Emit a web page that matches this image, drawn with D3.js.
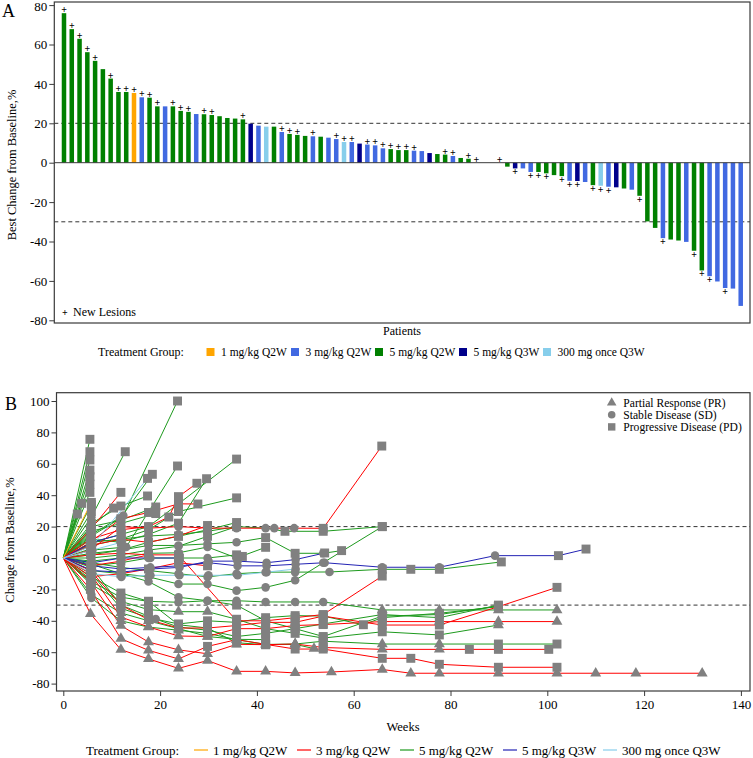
<!DOCTYPE html>
<html><head><meta charset="utf-8">
<script src="https://cdn.jsdelivr.net/npm/d3@7"></script>
<style>
body{margin:0;background:#fff}
text{font-family:"Liberation Serif","Tinos","Times New Roman",serif;fill:#000}
</style>
</head><body>
<svg id="chart" width="753" height="758"></svg>
<script>
// ---- panel A: best change from baseline per patient (sorted), group index, new lesions
var bestChange = [75.9,67.8,62.9,56.1,51.7,47.5,42.7,35.9,35.9,35.4,33.2,33.0,28.6,28.6,28.6,26.3,25.8,24.7,24.6,24.2,
  23.6,22.7,22.4,22.0,19.8,18.8,18.3,18.3,15.6,14.6,14.1,13.6,13.4,13.2,12.7,12.0,10.5,10.5,9.7,9.2,
  8.8,7.3,6.9,6.4,6.4,6.1,5.9,4.9,4.4,4.1,3.4,2.4,2.0,0,0,0,0,-2.0,-2.9,-2.9,
  -4.7,-4.7,-5.4,-6.3,-6.8,-9.2,-9.3,-9.8,-11.4,-11.7,-12.2,-12.5,-13.1,-13.7,-16.8,-29.8,-33.1,-38.3,-39.0,-39.5,
  -40.2,-44.7,-54.7,-57.6,-60.3,-63.6,-63.9,-72.7];
var barGroup = [2,2,2,2,2,2,2,2,2,0,1,2,2,1,2,2,2,1,2,2,
  2,2,2,2,3,1,4,2,1,2,2,2,1,2,1,1,4,1,3,1,
  1,1,2,2,2,1,1,3,2,2,1,2,2,2,2,2,2,2,3,1,
  1,2,2,2,2,1,3,1,2,4,1,3,2,1,2,2,2,1,2,2,
  1,2,2,1,1,1,1,1];
var newLesion = [1,1,1,1,1,0,1,1,1,1,1,1,1,0,1,1,1,0,1,1,
  0,0,0,1,0,0,0,0,1,1,1,0,1,0,0,1,1,1,0,1,
  1,1,1,1,1,1,0,0,0,1,1,0,1,1,0,0,1,0,1,0,
  1,1,1,0,1,1,1,0,1,1,1,0,0,0,1,0,0,1,0,0,
  0,1,1,1,0,1,0,0];
var yTicksA = [-80,-60,-40,-20,0,20,40,60,80];

var groupNames = ["1 mg/kg Q2W","3 mg/kg Q2W","5 mg/kg Q2W","5 mg/kg Q3W","300 mg once Q3W"];
var barColors = ["#FFA500","#4169E1","#008000","#00008B","#87CEEB"];
var lineColors = ["#FFA500","#FF0000","#1E9A1E","#2323B4","#87CEEB"];

// ---- panel B: spider trajectories [week, % change, response], per treatment group
var spider1mg = [
  [[5.8,35.4,"PD"]]
];
var spider3mg = [
  [[5.6,-35.5,"PR"],[11.9,-58.4,"PR"],[17.6,-64.3,"PR"],[23.8,-70.3,"PR"],[29.8,-65.3,"PR"],[35.8,-72.2,"PR"],[41.8,-72.2,"PR"],[47.9,-73.2,"PR"],[55.4,-72.6,"PR"],[65.9,-71,"PR"],[71.8,-73.4,"PR"],[77.7,-73.4,"PR"],[89.9,-73.4,"PR"],[102,-73.4,"PR"],[110,-73.4,"PR"],[118.3,-73.4,"PR"],[132,-73.4,"PR"]],
  [[5.6,-20,"PD"],[11.9,-51.4,"PR"],[17.6,-58.8,"PR"],[23.8,-64.3,"PR"],[29.8,-56.3,"PD"],[35.8,-52,"PD"],[41.8,-55,"PD"],[47.9,-58,"PD"],[53.7,-58,"PD"],[65.9,-63.9,"PD"],[71.8,-63.9,"PD"],[77.7,-67.7,"PD"],[89.9,-69.6,"PD"],[102,-69.6,"PD"]],
  [[5.6,-15,"PD"],[11.9,-43.1,"PR"],[17.6,-53.5,"PR"],[23.8,-58.5,"PR"],[29.8,-61,"PR"],[35.8,-55,"PR"],[41.8,-55.2,"PD"],[47.9,-54.8,"PR"],[53.7,-57,"PD"],[65.9,-58.2,"PR"],[77.7,-58.2,"PR"],[83.9,-58.2,"PD"],[89.9,-58.2,"PD"],[100.3,-58.2,"PD"]],
  [[5.6,-10,"PD"],[11.9,-37.6,"PR"],[17.6,-43.9,"PR"],[23.8,-49.7,"PR"],[29.8,-50,"PR"],[35.8,-45,"PD"],[41.8,-45,"PD"],[47.9,-43,"PD"],[53.7,-42.4,"PD"],[65.9,-40.5,"PD"],[77.7,-40.5,"PR"],[89.9,-40.5,"PR"],[102,-40.5,"PR"]],
  [[5.6,-8,"PD"],[11.9,-30,"PD"],[17.6,-39.3,"PD"],[23.8,-44.6,"PD"],[29.8,-44.6,"PD"],[35.8,-43,"PD"],[41.8,-41,"PD"],[47.9,-41,"PD"],[53.7,-37,"PD"],[65.9,-42.7,"PD"],[77.7,-42.7,"PD"],[89.9,-31,"PD"],[102,-18.7,"PD"]],
  [[5.6,18,"PD"],[11.9,41.8,"PD"]],
  [[5.6,12,"PD"],[11.9,18,"PD"],[17.6,20,"PD"],[21.8,26.1,"PD"],[23.8,39.1,"PD"],[27.6,47.6,"PD"]],
  [[5.6,5,"PD"],[11.9,20,"PD"],[17.6,19,"PD"],[23.8,20,"SD"],[29.8,19,"SD"],[35.8,19,"SD"],[43.6,19,"SD"],[47.7,19,"SD"],[53.7,18.9,"PD"],[65.8,71.3,"PD"]],
  [[5.6,2,"PD"],[11.9,3,"PD"],[17.6,2,"PD"],[23.8,2,"PD"],[35.8,-40,"PD"],[41.8,-40,"PD"],[47.9,-38,"PD"],[53.7,-36,"PD"],[65.9,-11.5,"PD"]],
  [[5.6,-12,"PD"],[11.9,-10,"PD"],[17.6,-7,"PD"],[23.8,-3,"PD"],[29.8,-5,"PD"]],
  [[5.6,8,"PD"],[11.9,12,"PD"],[17.6,10,"PD"],[23.8,14,"PD"],[29.8,20.7,"PD"]],
  [[5.6,-5,"PD"],[11.9,-2,"PD"],[17.6,2,"PD"]],
  [[5.6,10,"PD"],[11.9,25,"PD"],[17.6,29,"PD"],[23.8,34.5,"PD"],[27.8,34.4,"PD"]]
];
var spider5mgQ2W = [
  [[5.5,75.6,"PD"]],[[5.5,67.7,"PD"]],[[5.5,62.4,"PD"]],[[5.5,56,"PD"]],[[5.5,51.8,"PD"]],
  [[5.5,47.1,"PD"]],[[5.5,41.8,"PD"]],[[3.8,34.8,"PD"]],[[2.9,28,"PD"]],[[5.8,34,"PD"]],[[5.8,29.5,"PD"]],
  [[5.8,26,"SD"],[12.8,67.7,"PD"]],
  [[5.8,15,"SD"],[12.4,27,"SD"],[23.6,100,"PD"]],
  [[5.8,5,"SD"],[13,7,"SD"],[23.6,58.6,"PD"]],
  [[5.8,14,"SD"],[11.7,25,"SD"],[18.4,53.3,"PD"]],
  [[5.8,22,"PD"],[11.9,33.1,"PD"],[17.4,39.5,"PD"]],
  [[5.8,12,"SD"],[11.9,10,"SD"],[17.6,15,"SD"],[23.8,22.2,"PD"],[29.6,50.5,"PD"]],
  [[5.8,20,"PD"],[10.4,31.8,"PD"]],
  [[5.8,10,"SD"],[11.9,15,"SD"],[17.6,20,"SD"],[23.8,34.5,"PD"],[35.8,63,"PD"]],
  [[5.8,8,"SD"],[11.9,12,"SD"],[17.6,18,"SD"],[23.8,29.6,"PD"],[35.8,38.3,"PD"]],
  [[5.8,3,"SD"],[11.9,5,"SD"],[17.6,10,"SD"],[23.8,13.8,"PD"],[29.8,18,"PD"],[35.8,22.6,"PD"]],
  [[5.8,0,"SD"],[11.9,2,"SD"],[17.6,5,"SD"],[23.8,7.5,"SD"],[29.8,13.8,"PD"],[35.8,20,"PD"]],
  [[5.8,-2,"SD"],[11.9,0,"SD"],[17.6,3,"SD"],[23.8,3.3,"SD"],[29.8,7,"SD"],[35.8,0,"SD"],[41.8,6.8,"PD"]],
  [[5.8,-5,"SD"],[11.9,-3,"SD"],[17.6,0,"SD"],[23.8,0,"SD"],[29.8,0,"SD"],[35.8,2,"PD"],[37,1,"PD"]],
  [[5.8,-8,"SD"],[11.9,-10,"SD"],[17.6,-12,"SD"],[23.8,-16.6,"SD"],[29.8,-16.6,"SD"],[35.8,-20.8,"SD"],[41.8,-18.7,"SD"],[47.9,-14.2,"SD"],[53.7,-3,"SD"],[65.9,20,"PD"]],
  [[5.8,10,"SD"],[11.9,12,"SD"],[17.6,14,"SD"],[23.8,15,"SD"],[29.8,17,"SD"],[35.8,20,"SD"],[41.8,19,"SD"],[45.8,17,"PD"],[53.7,17,"PD"],[65.9,20,"PD"]],
  [[5.8,2,"SD"],[11.9,5,"SD"],[17.6,8,"SD"],[23.8,8,"SD"],[29.8,9,"SD"],[35.8,10,"SD"],[41.8,13,"PD"],[47.9,3,"PD"],[53.7,3,"SD"],[57.5,4.7,"PD"]],
  [[5.8,-3,"SD"],[11.9,-6,"SD"],[17.6,-8,"SD"],[23.8,-10,"SD"],[29.8,-12,"SD"],[35.8,-10,"SD"],[41.8,-9,"SD"],[47.9,-9,"SD"],[55,-8.9,"SD"],[65.9,-7.2,"PD"],[71.8,-7.2,"PD"],[77.7,-7.2,"PD"],[90.5,-2.5,"PD"]],
  [[5.8,-15,"SD"],[11.9,-25,"PD"],[17.6,-27.6,"PD"],[23.8,-28.2,"SD"],[29.8,-27.2,"SD"],[35.8,-27.2,"SD"],[41.8,-28,"SD"],[47.9,-28,"SD"],[53.7,-28,"SD"],[65.9,-33.1,"PR"],[77.7,-33.1,"PR"],[89.9,-33.1,"PR"],[102,-33.1,"PR"]],
  [[5.8,-17,"PD"],[11.9,-27.6,"PD"],[17.6,-32.9,"PD"],[23.8,-34.2,"PR"],[29.8,-34.2,"PR"],[35.8,-39,"PD"],[41.8,-45,"PD"],[47.9,-48,"PD"],[53.7,-51,"PD"],[65.9,-47,"PD"],[77.7,-49,"PD"],[89.9,-42.7,"PR"]],
  [[5.8,-12,"PD"],[11.9,-22.3,"PD"],[17.6,-27.6,"PD"],[23.8,-42.5,"PD"],[29.8,-44.6,"PD"],[35.8,-54,"PD"],[41.8,-55.2,"PD"],[47.9,-54.8,"PR"],[53.7,-53,"PD"],[65.9,-54.8,"PR"],[77.7,-54.8,"PR"],[89.9,-54.8,"PD"],[102,-54.8,"PD"]],
  [[5.8,-10,"PD"],[11.9,-32,"PD"],[17.6,-38,"PD"],[23.8,-42,"PD"],[29.8,-40,"PD"],[35.8,-41,"PD"],[41.8,-38,"PD"],[47.9,-36.7,"PD"],[53.7,-37,"PD"],[62,-42.5,"PD"],[65.9,-38,"PD"],[77.7,-35.2,"PD"],[89.9,-31,"PD"]],
  [[5.8,-6,"PD"],[11.9,-30,"PD"],[19.1,-38.9,"SD"],[23.8,-44,"PD"],[29.8,-46,"PD"],[35.8,-50,"PD"],[41.8,-48,"PD"],[47.9,-45,"PD"],[53.7,-50,"PD"],[65.9,-37,"PD"],[77.7,-36,"PD"],[89.9,-30.6,"PD"]],
  [[5.8,-4,"SD"],[11.9,-10,"SD"],[17.6,-15,"SD"],[23.8,-25,"SD"],[29.8,-27.2,"SD"],[35.8,-30,"PD"],[41.8,-40,"PD"],[47.9,-45,"PD"],[53.7,-42,"PD"],[65.9,-36,"PD"],[77.7,-38,"PD"],[89.9,-30,"PD"]],
  [[5.8,-23.4,"SD"],[11.9,-35,"PR"],[17.6,-40,"PR"],[23.8,-45,"PR"],[29.8,-50,"PR"],[35.8,-51.8,"PR"],[41.8,-52,"PD"]],
  [[5.8,-25.5,"SD"],[11.9,-40,"PR"],[17.6,-44,"PR"],[23.8,-46,"PR"],[29.8,-48,"PR"],[35.8,-52,"PR"],[41.8,-55,"PR"],[47.9,-55,"PR"],[51.8,-57.7,"PR"]],
  [[5.8,18,"PD"]],[[5.8,16,"PD"]],[[5.8,13,"PD"]],[[5.8,9,"PD"]],[[5.8,6,"PD"]],[[5.8,-14,"PD"]],[[5.8,-16,"PD"]],
  [[5.8,20,"SD"],[11.9,24,"SD"],[19.1,32.5,"PD"]],
  [[5.8,17,"SD"],[11.9,22,"SD"],[19.1,28.3,"PD"]]
];
var spider5mgQ3W = [
  [[6,-5,"SD"],[12,-7,"SD"],[18,-6,"SD"],[24,-5,"SD"],[30,-3,"SD"],[36,-5,"SD"],[42,-5,"SD"],[48,-4,"SD"],[54,-3,"SD"],[65.9,-5.9,"SD"],[77.7,-5.9,"SD"],[89.2,1.5,"SD"],[102.3,1.5,"PD"],[108,5.7,"PD"]],
  [[6,-8,"SD"],[12,-9,"SD"],[18,-7,"SD"],[24,-6,"SD"],[30,-2,"SD"],[36,-2,"SD"],[42,-3,"SD"],[48,-1,"SD"],[54,3.2,"PD"]],
  [[6,10,"SD"],[12,15,"PD"]],
  [[6,-3,"SD"],[12,0,"SD"],[18,0,"SD"],[24,0,"PD"]]
];
var spider300mg = [
  [[6,8,"SD"],[17.4,50.7,"PD"]],
  [[6,-10,"SD"],[12,-12,"SD"],[18,-11,"SD"],[24,-11,"SD"],[30,-11,"SD"],[36,-11,"SD"],[42,-9,"SD"],[48,-7,"SD"]],
  [[6,5,"SD"],[12,10,"PD"]]
];
var xTicksB = [0,20,40,60,80,100,120,140];
var yTicksB = [-80,-60,-40,-20,0,20,40,60,80,100];
var respNames = ["Partial Response (PR)","Stable Disease (SD)","Progressive Disease (PD)"];

var svg = d3.select("#chart");
svg.append("rect").attr("width",753).attr("height",758).attr("fill","#fff");
var frameCol = "#3a3a3a";

// ================= Panel A =================
var xA = d3.scaleBand().domain(d3.range(bestChange.length)).range([60.1, 744.6]).paddingInner(0.42).paddingOuter(0.21);
var yA = d3.scaleLinear().domain([-80, 80]).range([320.3, 5.1]);
var gA = svg.append("g");

[20, -30].forEach(function(v){
  gA.append("line").attr("x1",54.3).attr("x2",750).attr("y1",yA(v)).attr("y2",yA(v))
    .attr("stroke","#333").attr("stroke-dasharray","4,3");
});
gA.selectAll("rect.bar").data(bestChange).enter().append("rect")
  .attr("class","bar")
  .attr("x", function(d,i){ return xA(i); })
  .attr("width", xA.bandwidth())
  .attr("y", function(d){ return yA(Math.max(0,d)); })
  .attr("height", function(d){ return Math.abs(yA(d)-yA(0)); })
  .attr("fill", function(d,i){ return barColors[barGroup[i]]; });
gA.append("line").attr("x1",54.3).attr("x2",750).attr("y1",yA(0)).attr("y2",yA(0)).attr("stroke",frameCol);
// new lesion markers
bestChange.forEach(function(d,i){
  if(!newLesion[i]) return;
  gA.append("text").attr("x", xA(i)+xA.bandwidth()/2)
    .attr("y", d >= 0 ? yA(d)-3.5 : yA(d)+3.5)
    .attr("dy","0.35em").attr("text-anchor","middle").style("font-size","10px").style("font-weight","bold").text("+");
});
gA.append("rect").attr("x",54.3).attr("y",2).attr("width",695.7).attr("height",321)
  .attr("fill","none").attr("stroke",frameCol).attr("stroke-width",1.2);
var axA = gA.append("g").attr("transform","translate(54.3,0)")
  .call(d3.axisLeft(yA).tickValues(yTicksA).tickSize(5).tickFormat(function(d){ return String(d); }));
axA.select(".domain").remove();
axA.selectAll("line").attr("stroke",frameCol);
axA.selectAll("text").style("font-size","13px").attr("x",-7).attr("fill","#000")
  .attr("dy", function(d){ return d === 80 ? "0.45em" : "0.32em"; });
gA.append("text").attr("transform","translate(16,165) rotate(-90)").attr("text-anchor","middle")
  .style("font-size","12.5px").text("Best Change from Baseline,%");
gA.append("text").attr("x",2).attr("y",17).style("font-size","18px").text("A");
gA.append("text").attr("x",62).attr("y",312).attr("dy","0.35em").style("font-size","10px").style("font-weight","bold").text("+");
gA.append("text").attr("x",73).attr("y",312).attr("dy","0.35em").style("font-size","12px").text("New Lesions");
gA.append("text").attr("x",402).attr("y",331).attr("dy","0.35em").attr("text-anchor","middle").style("font-size","12px").text("Patients");

// legend A
var legA = svg.append("g").attr("transform","translate(0,352)");
legA.append("text").attr("x",98).attr("dy","0.35em").style("font-size","12px").text("Treatment Group:");
var legAx = [206.5, 291, 375, 459, 543];
groupNames.forEach(function(n,i){
  legA.append("rect").attr("x",legAx[i]).attr("y",-4).attr("width",8).attr("height",8).attr("fill",barColors[i]);
  legA.append("text").attr("x",legAx[i]+14.5).attr("dy","0.35em").style("font-size","11.5px").text(n);
});

// ================= Panel B =================
var xB = d3.scaleLinear().domain([0, 140]).range([63.3, 740.9]);
var yB = d3.scaleLinear().domain([-80, 100]).range([683.6, 401]);
var gB = svg.append("g");
[20, -30].forEach(function(v){
  gB.append("line").attr("x1",56.5).attr("x2",750).attr("y1",yB(v)).attr("y2",yB(v))
    .attr("stroke","#333").attr("stroke-dasharray","4,3");
});
var line = d3.line().x(function(d){ return xB(d[0]); }).y(function(d){ return yB(d[1]); });
var spiderSets = [[spider5mgQ2W,2],[spider3mg,1],[spider5mgQ3W,3],[spider300mg,4],[spider1mg,0]];
spiderSets.forEach(function(s){
  gB.append("g").selectAll("path").data(s[0]).enter().append("path")
    .attr("d", function(t){ return line([[0,0]].concat(t)); })
    .attr("fill","none").attr("stroke",lineColors[s[1]]).attr("stroke-width",1);
});
var symOf = {PR: d3.symbol().type(d3.symbolTriangle).size(52),
             SD: d3.symbol().type(d3.symbolCircle).size(58),
             PD: d3.symbol().type(d3.symbolSquare).size(80)};
var allPts = [];
spiderSets.forEach(function(s){ s[0].forEach(function(t){ t.forEach(function(p){ allPts.push(p); }); }); });
gB.append("g").selectAll("path").data(allPts).enter().append("path")
  .attr("transform", function(p){ return "translate(" + xB(p[0]) + "," + yB(p[1]) + ")"; })
  .attr("d", function(p){ return symOf[p[2]](); })
  .attr("fill","#808080");
gB.append("rect").attr("x",56.5).attr("y",392.7).attr("width",693.5).attr("height",298.3)
  .attr("fill","none").attr("stroke",frameCol).attr("stroke-width",1.2);
var axBy = gB.append("g").attr("transform","translate(56.5,0)")
  .call(d3.axisLeft(yB).tickValues(yTicksB).tickSize(5).tickFormat(function(d){ return String(d); }));
axBy.select(".domain").remove();
axBy.selectAll("line").attr("stroke",frameCol);
axBy.selectAll("text").style("font-size","13px").attr("x",-7).attr("fill","#000");
var axBx = gB.append("g").attr("transform","translate(0,691)")
  .call(d3.axisBottom(xB).tickValues(xTicksB).tickSize(5).tickFormat(function(d){ return String(d); }));
axBx.select(".domain").remove();
axBx.selectAll("line").attr("stroke",frameCol);
axBx.selectAll("text").style("font-size","13px").attr("y",9).attr("fill","#000");
gB.append("text").attr("x",403).attr("y",727).attr("dy","0.35em").attr("text-anchor","middle").style("font-size","12.5px").text("Weeks");
gB.append("text").attr("transform","translate(14,540) rotate(-90)").attr("text-anchor","middle")
  .style("font-size","12.5px").text("Change from Baseline,%");
gB.append("text").attr("x",5).attr("y",410).style("font-size","18px").text("B");

// response legend (inside)
respNames.forEach(function(n,i){
  var yy = 402.7 + i*12.1;
  gB.append("path").attr("transform","translate(611.7,"+yy+")")
    .attr("d", d3.symbol().type([d3.symbolTriangle,d3.symbolCircle,d3.symbolSquare][i]).size([40,45,55][i])())
    .attr("fill","#808080");
  gB.append("text").attr("x",623.3).attr("y",yy).attr("dy","0.33em").style("font-size","11.6px").text(n);
});

// legend B
var legB = svg.append("g").attr("transform","translate(0,750)");
legB.append("text").attr("x",86).attr("dy","0.35em").style("font-size","13px").text("Treatment Group:");
var legBx = [194, 297, 400, 503, 603];
groupNames.forEach(function(n,i){
  legB.append("line").attr("x1",legBx[i]).attr("x2",legBx[i]+14).attr("stroke",lineColors[i]).attr("stroke-width",1.2);
  legB.append("text").attr("x",legBx[i]+19).attr("dy","0.35em").style("font-size","13px").text(n);
});
</script>
</body></html>
